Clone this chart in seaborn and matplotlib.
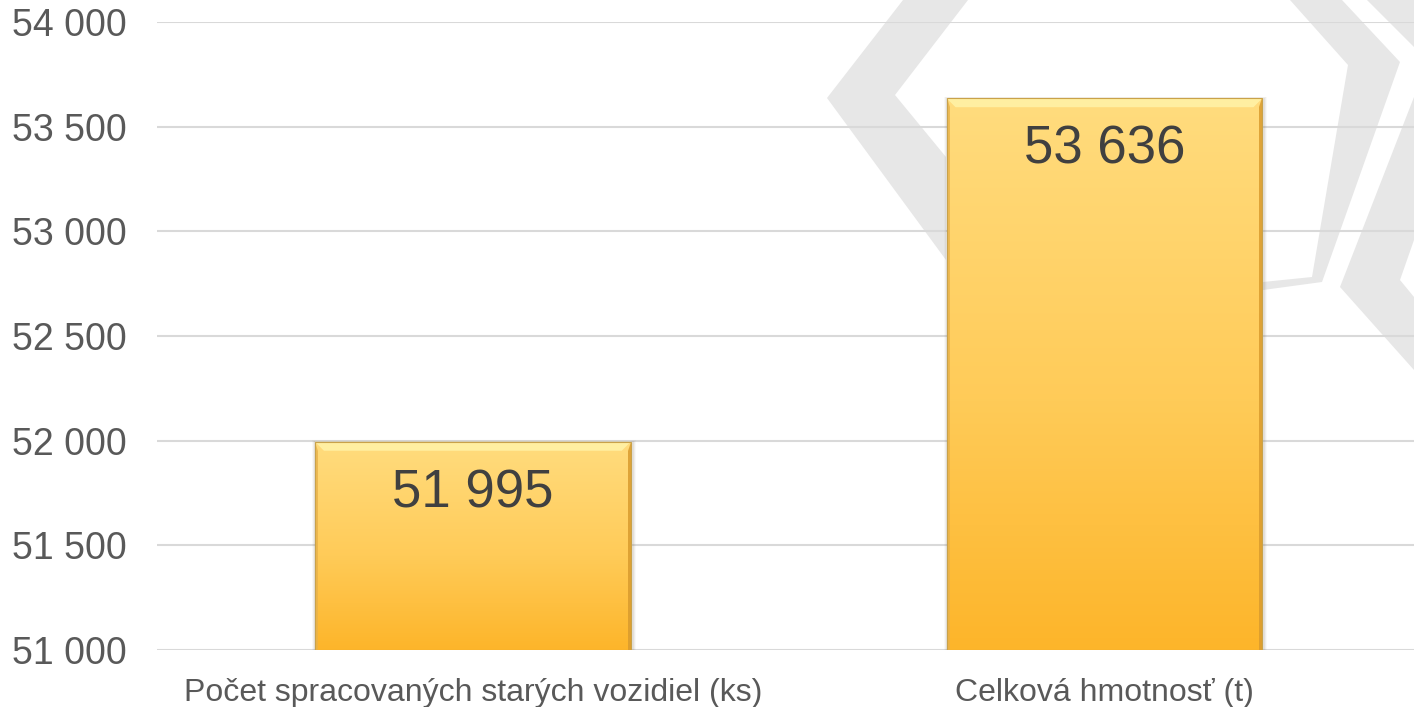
import numpy as np
import pandas as pd
import matplotlib
matplotlib.use("Agg")
import matplotlib.pyplot as plt
from matplotlib.patches import Polygon, Rectangle
from matplotlib.colors import LinearSegmentedColormap
from matplotlib.ticker import FuncFormatter, MultipleLocator
import seaborn as sns

# Data
categories = ["Počet spracovaných starých vozidiel (ks)", "Celková hmotnosť (t)"]
values = [51995, 53636]
y_min, y_max, y_step = 51000, 54000, 500

sns.set_theme(style="white")
plt.rcParams["font.family"] = ["Liberation Sans", "DejaVu Sans"]

W, H = 1414, 707
fig = plt.figure(figsize=(W / 100, H / 100), dpi=100)
fig.patch.set_facecolor("white")


def px(points):
    """Convert pixel coordinates (origin top-left) to figure fractions."""
    return [(x / W, 1 - y / H) for x, y in points]


# Faint background emblem
emblem = [
    [(903, 0), (968, 0), (895, 95), (946, 157), (946, 260), (827, 98)],
    [(1290, 0), (1342, 0), (1400, 62), (1322, 282), (1263, 290),
     (1263, 282), (1312, 277), (1348, 65)],
    [(1367, 0), (1414, 0), (1414, 47)],
    [(1414, 97), (1414, 240), (1400, 280), (1414, 297), (1414, 370), (1340, 287)],
]
for shape in emblem:
    fig.patches.append(Polygon(px(shape), closed=True, transform=fig.transFigure,
                               facecolor="#e7e7e7", edgecolor="none", zorder=-1))

ax = fig.add_axes([157 / W, 57 / H, 1 - 157 / W, (650 - 22) / H])
ax.patch.set_alpha(0)

df = pd.DataFrame({"category": categories, "value": values})
sns.barplot(data=df, x="category", y="value", width=0.5, color="#FFC94A",
            saturation=1, ax=ax, zorder=3)

ax.set_ylim(y_min, y_max)
ax.set_xlim(-0.5, 1.49)
ax.yaxis.set_major_locator(MultipleLocator(y_step))
ax.yaxis.set_major_formatter(FuncFormatter(lambda v, _: f"{int(v):,}".replace(",", " ")))
ax.grid(axis="y", color="#d9d9d9", linewidth=1.5, zorder=0)
ax.grid(axis="x", visible=False)
for s in ax.spines.values():
    s.set_visible(False)
ax.set_xlabel("")
ax.set_ylabel("")
ax.tick_params(axis="y", length=0, pad=22, labelsize=27, labelcolor="#595959")
ax.tick_params(axis="x", length=0, pad=20, labelsize=23, labelcolor="#595959")

# Gradient fill with a bevelled edge on every bar
grad = LinearSegmentedColormap.from_list(
    "bar", [(0.0, "#FDB52A"), (0.45, "#FFCB58"), (1.0, "#FFDC7E")])
gradient = np.linspace(0, 1, 256).reshape(-1, 1)
px_x = 1.99 / (W - 157)          # data units per pixel, x
px_y = (y_max - y_min) / 628     # data units per pixel, y

for bar, val in zip(ax.patches, values):
    x0 = bar.get_x()
    x1 = x0 + bar.get_width()
    bar.set_facecolor("none")
    bar.set_edgecolor("none")
    # soft shadow
    for k, a in enumerate([0.10, 0.07, 0.04]):
        g = k + 1
        ax.add_patch(Rectangle((x0 - g * px_x, y_min), (x1 - x0) + 2 * g * px_x + 2 * px_x,
                               val - y_min + g * px_y * 0.5, facecolor="#7a6a50",
                               alpha=a, edgecolor="none", zorder=2))
    im = ax.imshow(gradient, cmap=grad, aspect="auto", origin="lower",
                   extent=(x0, x1, y_min, val), zorder=3, interpolation="bicubic")
    im.set_clip_path(bar)
    bw, bh = 9 * px_x, 9 * px_y
    # top bevel highlight
    ax.add_patch(Polygon([(x0, val), (x1, val), (x1 - bw, val - bh), (x0 + bw, val - bh)],
                         facecolor="#FFF2A6", edgecolor="none", alpha=0.9, zorder=4))
    # side bevels
    ax.add_patch(Polygon([(x1, val), (x1, y_min), (x1 - 3 * px_x, y_min), (x1 - 3 * px_x, val - bh)],
                         facecolor="#D99B2E", edgecolor="none", alpha=0.85, zorder=4))
    ax.add_patch(Polygon([(x0, val), (x0, y_min), (x0 + 3 * px_x, y_min), (x0 + 3 * px_x, val - bh)],
                         facecolor="#E8B24A", edgecolor="none", alpha=0.8, zorder=4))
    ax.add_patch(Rectangle((x0, y_min), x1 - x0, val - y_min, facecolor="none",
                           edgecolor="#C9A24A", linewidth=0.8, zorder=5))
    ax.annotate(f"{val:,}".replace(",", " "), xy=((x0 + x1) / 2, val),
                xytext=(0, -19), textcoords="offset points", ha="center", va="top",
                fontsize=38, color="#404040", zorder=6)

fig.savefig("out.png", dpi=100)
